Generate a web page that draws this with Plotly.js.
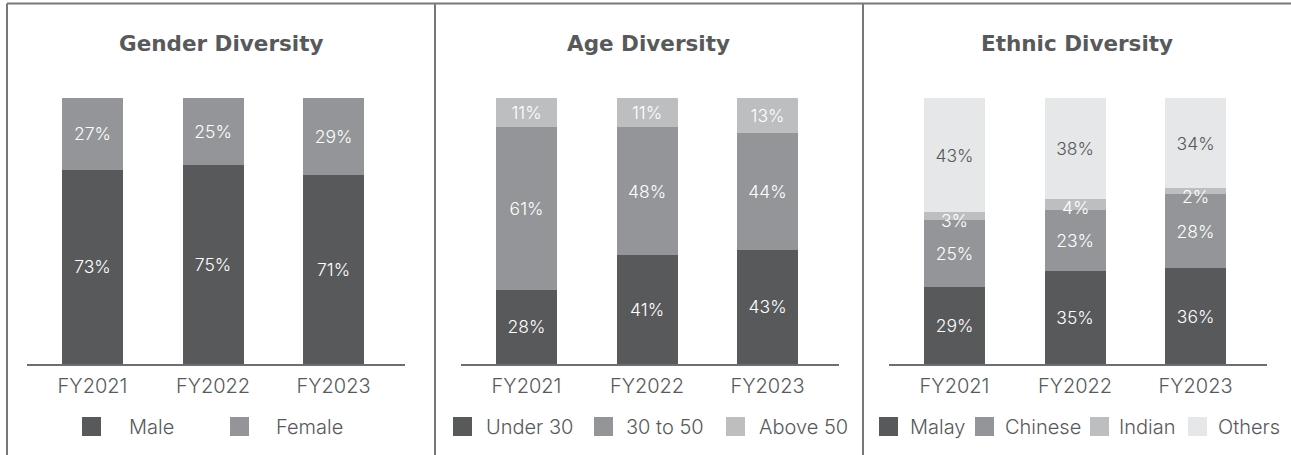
<!DOCTYPE html>
<html>
<head>
<meta charset="utf-8">
<script src="https://cdn.plot.ly/plotly-3.0.1.min.js"></script>
<style>
html,body{margin:0;padding:0;background:#fff;}
#chart{width:1291px;height:455px;}
</style>
</head>
<body>
<div id="chart"></div>
<script>
// ---- data ----
const years = ["FY2021", "FY2022", "FY2023"];

const genderNames = ["Male", "Female"];
const male = [73, 75, 71];
const female = [27, 25, 29];

const ageNames = ["Under 30", "30 to 50", "Above 50"];
const under30 = [28, 41, 43];
const age30to50 = [61, 48, 44];
const above50 = [11, 11, 13];

const ethnicNames = ["Malay", "Chinese", "Indian", "Others"];
const malay = [29, 35, 36];
const chinese = [25, 23, 28];
const indian = [3, 4, 2];
const others = [43, 38, 34];

const panelTitles = ["Gender Diversity", "Age Diversity", "Ethnic Diversity"];

// ---- styling ----
const W = 1291, H = 455;
const FONT = "Inter, 'Open Sans', sans-serif";
const TFONT = "'DejaVu Sans', Inter, sans-serif";
const DARK = "#58595b", MID = "#939598", LIGHT = "#bcbec0", PALE = "#e6e7e8";
const TXT = "#58595b";
const LBL = 17.5;
const px = x => x / W;
const py = y => 1 - y / H;

function bar(name, vals, color, txtColor, axis, showText) {
  return {
    type: "bar", name: name, x: years, y: vals,
    xaxis: "x" + axis, yaxis: "y" + axis,
    marker: {color: color, line: {width: 0}},
    width: 0.506,
    text: vals.map(v => v + "%"),
    texttemplate: "%{text}",
    textposition: showText === false ? "none" : "inside", insidetextanchor: "middle",
    constraintext: "none", textangle: 0,
    textfont: {family: FONT, size: LBL, weight: 300, color: txtColor},
    cliponaxis: false, showlegend: false, hoverinfo: "skip"
  };
}

const data = [
  bar(genderNames[0], male, DARK, "#ffffff", ""),
  bar(genderNames[1], female, MID, "#ffffff", ""),
  bar(ageNames[0], under30, DARK, "#ffffff", "2"),
  bar(ageNames[1], age30to50, MID, "#ffffff", "2"),
  bar(ageNames[2], above50, LIGHT, "#ffffff", "2"),
  bar(ethnicNames[0], malay, DARK, "#ffffff", "3"),
  bar(ethnicNames[1], chinese, MID, "#ffffff", "3"),
  bar(ethnicNames[2], indian, LIGHT, "#ffffff", "3", false),
  bar(ethnicNames[3], others, PALE, TXT, "3")
];

const plotTop = 98, plotBottom = 364;
function xax(l, r) {
  return {
    domain: [px(l), px(r)], type: "category", range: [-0.5436, 2.593],
    showline: true, linecolor: "#6d6e71", linewidth: 2,
    showgrid: false, zeroline: false, ticks: "", fixedrange: true,
    tickfont: {family: FONT, size: 20, weight: 300, color: TXT}, ticklabelstandoff: 3
  };
}
function yax() {
  return {
    domain: [py(plotBottom), py(plotTop)], range: [0, 100],
    visible: false, showgrid: false, zeroline: false, fixedrange: true
  };
}

const panelCenters = [221, 649, 1077];
const annotations = panelTitles.map((t, i) => ({
  text: t, xref: "paper", yref: "paper",
  x: px(panelCenters[i]), y: py(44), xanchor: "center", yanchor: "middle",
  showarrow: false, font: {family: TFONT, size: 21.5, weight: 700, color: TXT}
}));

// small Indian labels hang from the top of their thin segment
years.forEach((yr, i) => {
  annotations.push({
    text: indian[i] + "%", xref: "x3", yref: "y3",
    x: yr, y: malay[i] + chinese[i] + indian[i],
    xanchor: "center", yanchor: "top", yshift: 4, showarrow: false,
    font: {family: FONT, size: LBL, weight: 300, color: "#ffffff"}
  });
});

// legends (manual)
const legendGroups = [
  {names: genderNames, colors: [DARK, MID], sq: [82, 230], tx: [127, 274]},
  {names: ageNames, colors: [DARK, MID, LIGHT], sq: [453, 594, 726], tx: [484, 624, 757]},
  {names: ethnicNames, colors: [DARK, MID, LIGHT, PALE], sq: [879, 975, 1090, 1188], tx: [908, 1003, 1117, 1216]}
];
const shapes = [];
const legY = 426.5, sqSize = 19;
legendGroups.forEach(g => {
  g.names.forEach((n, i) => {
    shapes.push({type: "rect", xref: "paper", yref: "paper",
      x0: px(g.sq[i]), x1: px(g.sq[i] + sqSize),
      y0: py(legY + sqSize / 2), y1: py(legY - sqSize / 2),
      fillcolor: g.colors[i], line: {width: 0}});
    annotations.push({text: n, xref: "paper", yref: "paper",
      x: px(g.tx[i]), y: py(legY), xanchor: "left", yanchor: "middle",
      showarrow: false, font: {family: FONT, size: 20, weight: 300, color: TXT}});
  });
});
// panel borders
const BC = "#77787b";
shapes.push({type: "line", xref: "paper", yref: "paper", x0: px(7), x1: 1, y0: py(3.5), y1: py(3.5), line: {color: BC, width: 2}});
[7, 435, 863].forEach(x => shapes.push({type: "line", xref: "paper", yref: "paper",
  x0: px(x), x1: px(x), y0: py(3.5), y1: 0, line: {color: BC, width: 2}}));

const layout = {
  width: W, height: H,
  margin: {l: 0, r: 0, t: 0, b: 0},
  paper_bgcolor: "#ffffff", plot_bgcolor: "#ffffff",
  barmode: "stack",
  showlegend: false,
  font: {family: FONT, color: TXT},
  xaxis: Object.assign(xax(27, 405), {anchor: "y"}),
  yaxis: Object.assign(yax(), {anchor: "x"}),
  xaxis2: Object.assign(xax(461, 839), {anchor: "y2"}),
  yaxis2: Object.assign(yax(), {anchor: "x2"}),
  xaxis3: Object.assign(xax(889, 1267), {anchor: "y3"}),
  yaxis3: Object.assign(yax(), {anchor: "x3"}),
  annotations: annotations,
  shapes: shapes
};

Plotly.newPlot("chart", data, layout, {displayModeBar: false, staticPlot: true});
</script>
</body>
</html>
